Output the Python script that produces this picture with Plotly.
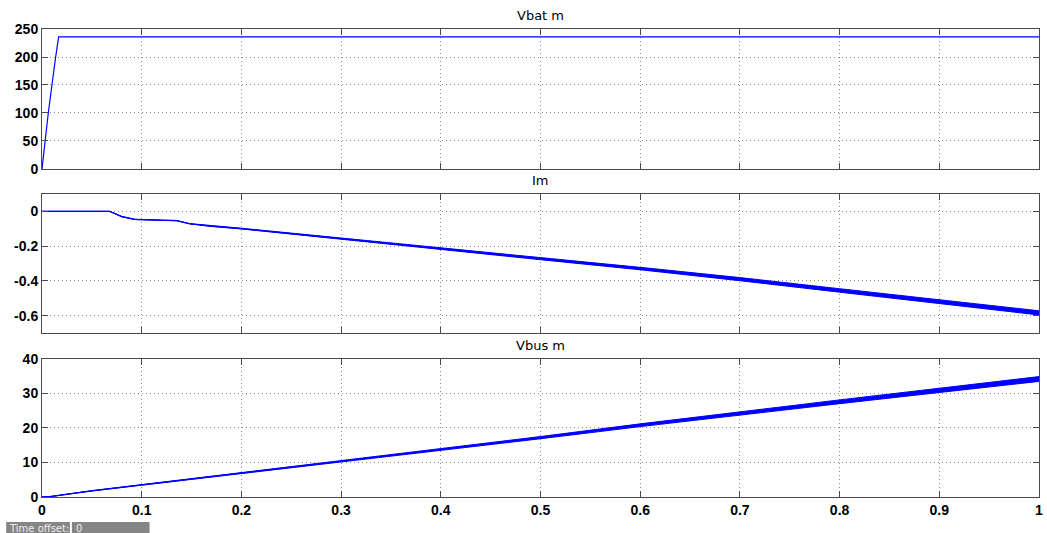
import plotly.graph_objects as go

# --- Vbat m : battery voltage ramp then steady level ---
vbat_t = [0.0, 0.003, 0.0063, 0.0137, 0.0167, 1.0]
vbat_v = [0.0, 50.0, 100.0, 200.0, 236.0, 236.0]

# --- Im : motor current (centre line and ripple half-width) ---
im_t = [0.0, 0.013, 0.04, 0.068, 0.08, 0.093, 0.12, 0.135, 0.148, 0.17, 0.2, 0.25,
        0.3, 0.358, 0.4, 0.5, 0.6, 0.657, 0.7, 0.8, 0.9, 1.0]
im_v = [0.0, 0.0, 0.0, 0.0, -0.03, -0.046, -0.051, -0.053, -0.071, -0.085, -0.099, -0.128,
        -0.157, -0.188, -0.213, -0.272, -0.329, -0.362, -0.39, -0.455, -0.521, -0.584]
im_ripple = [0.0, 0.0, 0.0, 0.0, 0.001, 0.001, 0.001, 0.001, 0.001, 0.002, 0.002, 0.003,
             0.003, 0.004, 0.005, 0.006, 0.007, 0.008, 0.009, 0.01, 0.011, 0.012]

# --- Vbus m : bus voltage (centre line and ripple half-width) ---
vbus_t = [0.0, 0.01, 0.05, 0.1, 0.2, 0.3, 0.4, 0.5, 0.6, 0.7, 0.8, 0.9, 1.0]
vbus_v = [0.0, 0.2, 1.8, 3.5, 7.0, 10.5, 13.9, 17.2, 20.8, 24.3, 27.6, 30.9, 34.2]
vbus_ripple = [0.0, 0.0, 0.05, 0.08, 0.12, 0.18, 0.25, 0.32, 0.4, 0.48, 0.55, 0.62, 0.7]

panel_titles = ["Vbat m", "Im", "Vbus m"]
x_ticks = [0, 0.1, 0.2, 0.3, 0.4, 0.5, 0.6, 0.7, 0.8, 0.9, 1]
x_tick_text = ["0", "0.1", "0.2", "0.3", "0.4", "0.5", "0.6", "0.7", "0.8", "0.9", "1"]
y_ticks = [[0, 50, 100, 150, 200, 250], [-0.6, -0.4, -0.2, 0], [0, 10, 20, 30, 40]]
y_tick_text = [["0", "50", "100", "150", "200", "250"], ["-0.6", "-0.4", "-0.2", "0"],
               ["0", "10", "20", "30", "40"]]
y_ranges = [[0, 250], [-0.7, 0.1], [0, 40]]

BLUE = "#0000ff"
W, H = 1047, 533
domains = [[0.7009, 1.0], [0.3504, 0.6474], [0.0, 0.2949]]

fig = go.Figure()


def band(t, v, r, xa, ya):
    upper = [a + b for a, b in zip(v, r)]
    lower = [a - b for a, b in zip(v, r)]
    fig.add_trace(go.Scatter(x=t, y=upper, mode="lines", line=dict(color=BLUE, width=1),
                             xaxis=xa, yaxis=ya, hoverinfo="skip"))
    fig.add_trace(go.Scatter(x=t, y=lower, mode="lines", line=dict(color=BLUE, width=1),
                             fill="tonexty", fillcolor=BLUE,
                             xaxis=xa, yaxis=ya, hoverinfo="skip"))
    fig.add_trace(go.Scatter(x=t, y=v, mode="lines", line=dict(color=BLUE, width=1.2),
                             xaxis=xa, yaxis=ya, hoverinfo="skip"))


fig.add_trace(go.Scatter(x=vbat_t, y=vbat_v, mode="lines", line=dict(color=BLUE, width=1.2),
                         xaxis="x", yaxis="y", hoverinfo="skip"))
band(im_t, im_v, im_ripple, "x2", "y2")
band(vbus_t, vbus_v, vbus_ripple, "x3", "y3")

axis_col = "#4a4a4a"
tick_font = dict(family="Liberation Sans, Arial, sans-serif", size=14, color="black", weight="bold")

layout = dict(
    width=W, height=H,
    margin=dict(l=42, r=4, t=29, b=36),
    paper_bgcolor="white", plot_bgcolor="white",
    showlegend=False,
)
for i in range(3):
    sx = "" if i == 0 else str(i + 1)
    layout["xaxis" + sx] = dict(
        domain=[0, 1], range=[0, 1], anchor="y" + sx,
        tickmode="array", tickvals=x_ticks, ticktext=x_tick_text,
        showticklabels=(i == 2), tickfont=tick_font, ticklabeloverflow="allow",
        ticks="inside", ticklen=6, tickcolor=axis_col, tickwidth=1,
        showline=True, linecolor=axis_col, linewidth=1, mirror="allticks",
        showgrid=True, gridcolor="#8c8c8c", gridwidth=1, griddash="1px,3px",
        zeroline=False, fixedrange=True,
    )
    layout["yaxis" + sx] = dict(
        domain=domains[i], range=y_ranges[i], anchor="x" + sx,
        tickmode="array", tickvals=y_ticks[i], ticktext=y_tick_text[i],
        tickfont=tick_font, ticklabeloverflow="allow",
        ticks="inside", ticklen=6, tickcolor=axis_col, tickwidth=1,
        showline=True, linecolor=axis_col, linewidth=1, mirror="allticks",
        showgrid=True, gridcolor="#8c8c8c", gridwidth=1, griddash="1px,3px",
        zeroline=False, fixedrange=True,
    )
fig.update_layout(**layout)

# panel titles
for i, title in enumerate(panel_titles):
    fig.add_annotation(text=title, xref="paper", yref="paper", x=0.5, y=domains[i][1],
                       yshift=4, xanchor="center", yanchor="bottom", showarrow=False,
                       font=dict(family="DejaVu Sans, sans-serif", size=13, color="black"))

# time offset status box
fig.add_shape(type="rect", xref="paper", yref="paper",
              x0=(6 - 42) / 1001, x1=(70 - 42) / 1001,
              y0=(497 - 533) / 468, y1=(497 - 522) / 468,
              fillcolor="#858585", line=dict(width=0))
fig.add_shape(type="rect", xref="paper", yref="paper",
              x0=(72 - 42) / 1001, x1=(150 - 42) / 1001,
              y0=(497 - 533) / 468, y1=(497 - 522) / 468,
              fillcolor="#858585", line=dict(width=0))
fig.add_annotation(text="Time offset:", xref="paper", yref="paper",
                   x=(7 - 42) / 1001, y=(497 - 528) / 468, xanchor="left", yanchor="middle",
                   showarrow=False, font=dict(family="DejaVu Sans, sans-serif", size=10, color="#eeeeee"))
fig.add_annotation(text="0", xref="paper", yref="paper",
                   x=(74 - 42) / 1001, y=(497 - 528) / 468, xanchor="left", yanchor="middle",
                   showarrow=False, font=dict(family="DejaVu Sans, sans-serif", size=10, color="#eeeeee"))

fig.write_html("out.html")
